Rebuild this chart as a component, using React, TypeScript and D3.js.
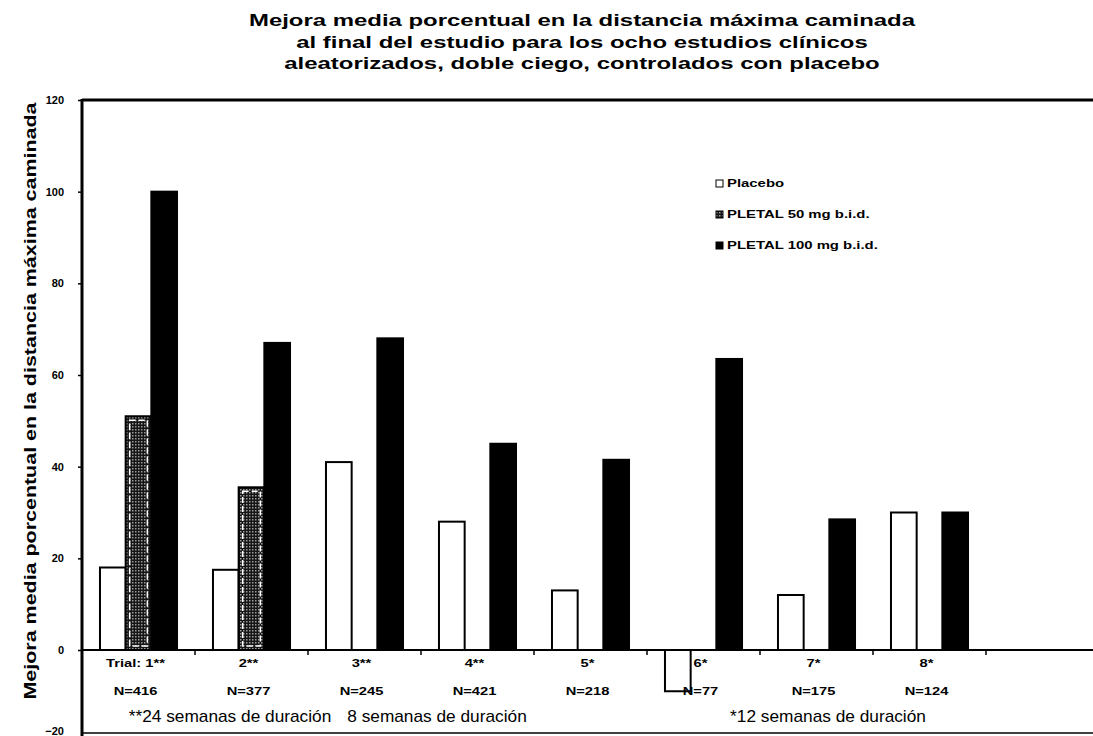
import { useRef, useEffect } from 'react';
import { select, scaleLinear, scaleBand, axisLeft, range } from 'd3';

// Chart data
const categories = ['Trial: 1**', '2**', '3**', '4**', '5*', '6*', '7*', '8*'];
const sampleSizes = ['N=416', 'N=377', 'N=245', 'N=421', 'N=218', 'N=77', 'N=175', 'N=124'];
const seriesKeys = ['placebo', 'pletal50', 'pletal100'];
const seriesLabels = ['Placebo', 'PLETAL 50 mg b.i.d.', 'PLETAL 100 mg b.i.d.'];
const placebo = [18, 17.5, 41, 28, 13, -9, 12, 30];
const pletal50 = [51, 35.5, null, null, null, null, null, null];
const pletal100 = [100, 67, 68, 45, 41.5, 63.5, 28.5, 30];
const yTicks = [-20, 0, 20, 40, 60, 80, 100, 120];
const durationLabels = ['**24 semanas de duración', '8 semanas de duración', '*12 semanas de duración'];
const titleLines = [
    'Mejora media porcentual en la distancia máxima caminada',
    'al final del estudio para los ocho estudios clínicos',
    'aleatorizados, doble ciego, controlados con placebo',
];

const FONT = 'Arial, "Liberation Sans", sans-serif';

function App() {
    const graphRef = useRef<SVGSVGElement | null>(null);

    // Dimensions
    const width = 1093;
    const height = 736;
    const left = 82;
    const top = 100;
    const zeroY = 650;
    const groupStep = 113;

    useEffect(() => {
        const svg = select(graphRef.current);
        svg.selectAll('*').remove();

        // Scales
        const y = scaleLinear().domain([0, 120]).range([zeroY, top]);
        const x0 = scaleBand<string>()
            .domain(categories)
            .range([left, left + groupStep * categories.length])
            .paddingInner(0)
            .paddingOuter(0);
        const x1 = scaleBand<string>()
            .domain(seriesKeys)
            .range([0, x0.bandwidth()])
            .paddingInner(0)
            .paddingOuter(0.7);

        // Pattern for the 50 mg bars (dark with grey stipple)
        const defs = svg.append('defs');
        const pat = defs
            .append('pattern')
            .attr('id', 'stipple')
            .attr('patternUnits', 'userSpaceOnUse')
            .attr('width', 3)
            .attr('height', 3);
        pat.append('rect').attr('width', 3).attr('height', 3).attr('fill', '#151515');
        pat.append('rect').attr('x', 0).attr('y', 0).attr('width', 1.5).attr('height', 1.5).attr('fill', '#9a9a9a');

        // Title (the scanned font is wide, so stretch along the baseline)
        svg.append('g')
            .selectAll('text')
            .data(titleLines)
            .join('text')
            .attr('transform', (d, i) => `translate(582, ${26 + i * 21.5}) scale(1.45, 1)`)
            .attr('text-anchor', 'middle')
            .style('font-family', FONT)
            .style('font-weight', 'bold')
            .style('font-size', '16.5px')
            .text((d) => d);

        // Y axis title
        svg.append('text')
            .attr('transform', `translate(36, 401) rotate(-90)`)
            .attr('text-anchor', 'middle')
            .attr('textLength', 597)
            .attr('lengthAdjust', 'spacingAndGlyphs')
            .style('font-family', FONT)
            .style('font-weight', 'bold')
            .style('font-size', '17px')
            .text('Mejora media porcentual en la distancia máxima caminada');

        // Frame lines
        svg.append('line')
            .attr('x1', left).attr('x2', width)
            .attr('y1', y(120)).attr('y2', y(120))
            .attr('stroke', 'black').attr('stroke-width', 3);
        svg.append('line')
            .attr('x1', left).attr('x2', width)
            .attr('y1', 733).attr('y2', 733)
            .attr('stroke', 'black').attr('stroke-width', 1.5);

        // Bars
        const series = [placebo, pletal50, pletal100];
        const bars = categories.flatMap((c, i) =>
            seriesKeys.map((k, s) => ({ cat: c, key: k, value: series[s][i] }))
        ).filter((d) => d.value !== null) as { cat: string; key: string; value: number }[];

        svg.append('g')
            .selectAll('rect')
            .data(bars)
            .join('rect')
            .attr('x', (d) => (x0(d.cat) ?? 0) + (x1(d.key) ?? 0))
            .attr('y', (d) => y(Math.max(0, d.value)))
            .attr('width', x1.bandwidth())
            .attr('height', (d) => Math.abs(y(d.value) - y(0)))
            .attr('fill', (d) => (d.key === 'placebo' ? 'white' : d.key === 'pletal50' ? 'url(#stipple)' : 'black'))
            .attr('stroke', 'black')
            .attr('stroke-width', 2);

        // Inner white outline on 50 mg bars
        svg.append('g')
            .selectAll('rect')
            .data(bars.filter((d) => d.key === 'pletal50'))
            .join('rect')
            .attr('x', (d) => (x0(d.cat) ?? 0) + (x1(d.key) ?? 0) + 4)
            .attr('y', (d) => y(d.value) + 4)
            .attr('width', x1.bandwidth() - 8)
            .attr('height', (d) => y(0) - y(d.value) - 8)
            .attr('fill', 'none')
            .attr('stroke', 'white')
            .attr('stroke-width', 1.5)
            .attr('stroke-dasharray', '6 3');

        // Zero line with group ticks
        svg.append('line')
            .attr('x1', left).attr('x2', width)
            .attr('y1', y(0)).attr('y2', y(0))
            .attr('stroke', 'black').attr('stroke-width', 2);
        svg.append('g')
            .selectAll('line')
            .data(range(1, categories.length + 1))
            .join('line')
            .attr('x1', (d) => left + d * x0.step())
            .attr('x2', (d) => left + d * x0.step())
            .attr('y1', y(0))
            .attr('y2', y(0) + 5)
            .attr('stroke', 'black')
            .attr('stroke-width', 1.5);

        // Y axis
        const yAxis = svg.append('g')
            .attr('transform', `translate(${left}, 0)`)
            .call(axisLeft(y).tickValues(yTicks).tickSize(4).tickPadding(14));
        yAxis.select('.domain').remove();
        yAxis.selectAll('line').attr('stroke-width', 1.5);
        yAxis.selectAll('text')
            .style('font-family', FONT)
            .style('font-weight', 'bold')
            .style('font-size', '11px');
        // the -20 label sits at the bottom edge of the picture
        yAxis.selectAll<SVGTextElement, number>('text')
            .filter((d) => d === -20)
            .attr('y', -11);
        svg.append('line')
            .attr('x1', left).attr('x2', left)
            .attr('y1', y(120) - 1).attr('y2', height)
            .attr('stroke', 'black').attr('stroke-width', 3);

        // Category labels
        svg.append('g')
            .selectAll('text')
            .data(categories)
            .join('text')
            .attr('transform', (d) => `translate(${(x0(d) ?? 0) + x0.bandwidth() / 2 - 3}, 667) scale(1.4, 1)`)
            .attr('text-anchor', 'middle')
            .style('font-family', FONT)
            .style('font-weight', 'bold')
            .style('font-size', '10.5px')
            .text((d) => d);

        // Sample sizes
        svg.append('g')
            .selectAll('text')
            .data(sampleSizes)
            .join('text')
            .attr('transform', (d, i) => `translate(${(x0(categories[i]) ?? 0) + x0.bandwidth() / 2 - 3}, 695) scale(1.4, 1)`)
            .attr('text-anchor', 'middle')
            .style('font-family', FONT)
            .style('font-weight', 'bold')
            .style('font-size', '10.5px')
            .text((d) => d);

        // Duration labels
        const durX = [230, 437, 828];
        svg.append('g')
            .selectAll('text')
            .data(durationLabels)
            .join('text')
            .attr('transform', (d, i) => `translate(${durX[i]}, 722) scale(1.08, 1)`)
            .attr('text-anchor', 'middle')
            .style('font-family', FONT)
            .style('font-size', '16px')
            .text((d) => d);

        // Legend
        const legend = svg.append('g').attr('transform', 'translate(716, 187)');
        const legendItems = legend
            .selectAll('g')
            .data(seriesKeys)
            .join('g')
            .attr('transform', (d, i) => `translate(0, ${i * 31})`);
        legendItems
            .append('rect')
            .attr('x', 0)
            .attr('y', -7)
            .attr('width', 7)
            .attr('height', 7)
            .attr('fill', (d) => (d === 'placebo' ? 'white' : d === 'pletal50' ? 'url(#stipple)' : 'black'))
            .attr('stroke', 'black')
            .attr('stroke-width', 1);
        legendItems
            .append('text')
            .attr('transform', 'translate(11, 0) scale(1.42, 1)')
            .style('font-family', FONT)
            .style('font-weight', 'bold')
            .style('font-size', '10.5px')
            .text((d, i) => seriesLabels[i]);
    }, []);

    return (
        <div style={{ position: 'absolute', left: 0, top: 0 }}>
            <svg ref={graphRef} width={width} height={height} style={{ display: 'block', background: 'white' }}></svg>
        </div>
    );
}

export default App;
